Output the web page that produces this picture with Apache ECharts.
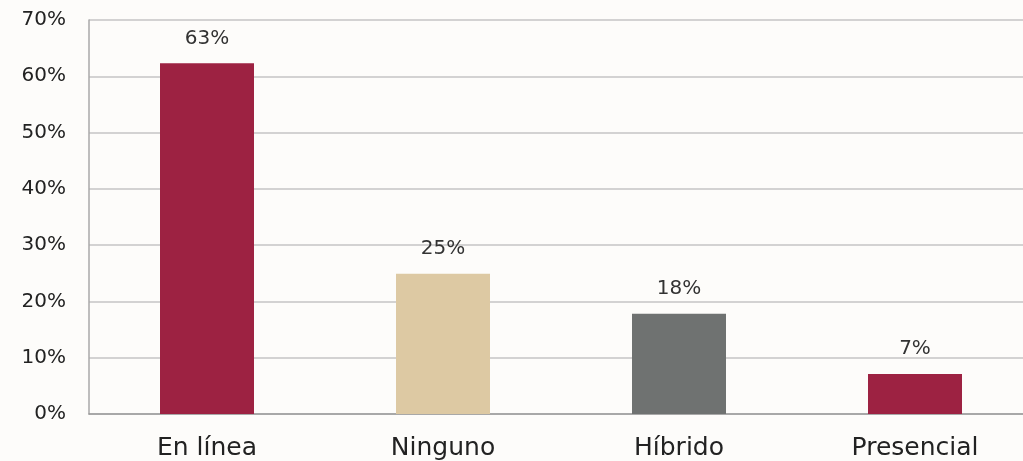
<!DOCTYPE html>
<html>
<head>
<meta charset="utf-8">
<script src="https://cdn.jsdelivr.net/npm/echarts@6/dist/echarts.min.js"></script>
<style>
  html, body { margin: 0; padding: 0; background: #fdfcfa; }
  #chart { width: 1023px; height: 461px; }
</style>
</head>
<body>
<div id="chart"></div>
<script>
// datos
const categorias = ['En línea', 'Ninguno', 'Híbrido', 'Presencial']
const valores = [62.3, 24.9, 17.8, 7.1]
const etiquetas = ['63%', '25%', '18%', '7%']
const colores = ['#9d2242', '#ddc9a3', '#6f7271', '#9d2242']

let chart = echarts.init(document.getElementById('chart'))
let option = {
  backgroundColor: '#fdfcfa',
  textStyle: {
    fontFamily: 'DejaVu Sans'
  },
  grid: {
    left: 89,
    width: 944,
    top: 20,
    bottom: 47,
    outerBoundsMode: 'none'
  },
  xAxis: {
    type: 'category',
    data: categorias,
    axisLine: {
      show: true,
      lineStyle: { color: '#9a9a9a', width: 1.5 }
    },
    axisTick: { show: false },
    axisLabel: {
      color: '#222',
      fontSize: 25,
      margin: 22
    }
  },
  yAxis: {
    type: 'value',
    min: 0,
    max: 70,
    interval: 10,
    axisLine: {
      show: true,
      lineStyle: { color: '#a8a8a8', width: 1.5 }
    },
    axisTick: { show: false },
    splitLine: {
      show: true,
      lineStyle: { color: '#c4c4c4', width: 1.5 }
    },
    axisLabel: {
      color: '#222',
      fontSize: 20,
      margin: 23,
      formatter: '{value}%'
    }
  },
  series: [
    {
      type: 'bar',
      barWidth: 94,
      data: valores.map((v, i) => ({
        value: v,
        itemStyle: { color: colores[i] }
      })),
      label: {
        show: true,
        position: 'top',
        distance: 15,
        color: '#333',
        fontSize: 20,
        formatter: (p) => etiquetas[p.dataIndex]
      }
    }
  ]
}
chart.setOption(option)
window.addEventListener('resize', () => {
  chart.resize()
})
</script>
</body>
</html>
